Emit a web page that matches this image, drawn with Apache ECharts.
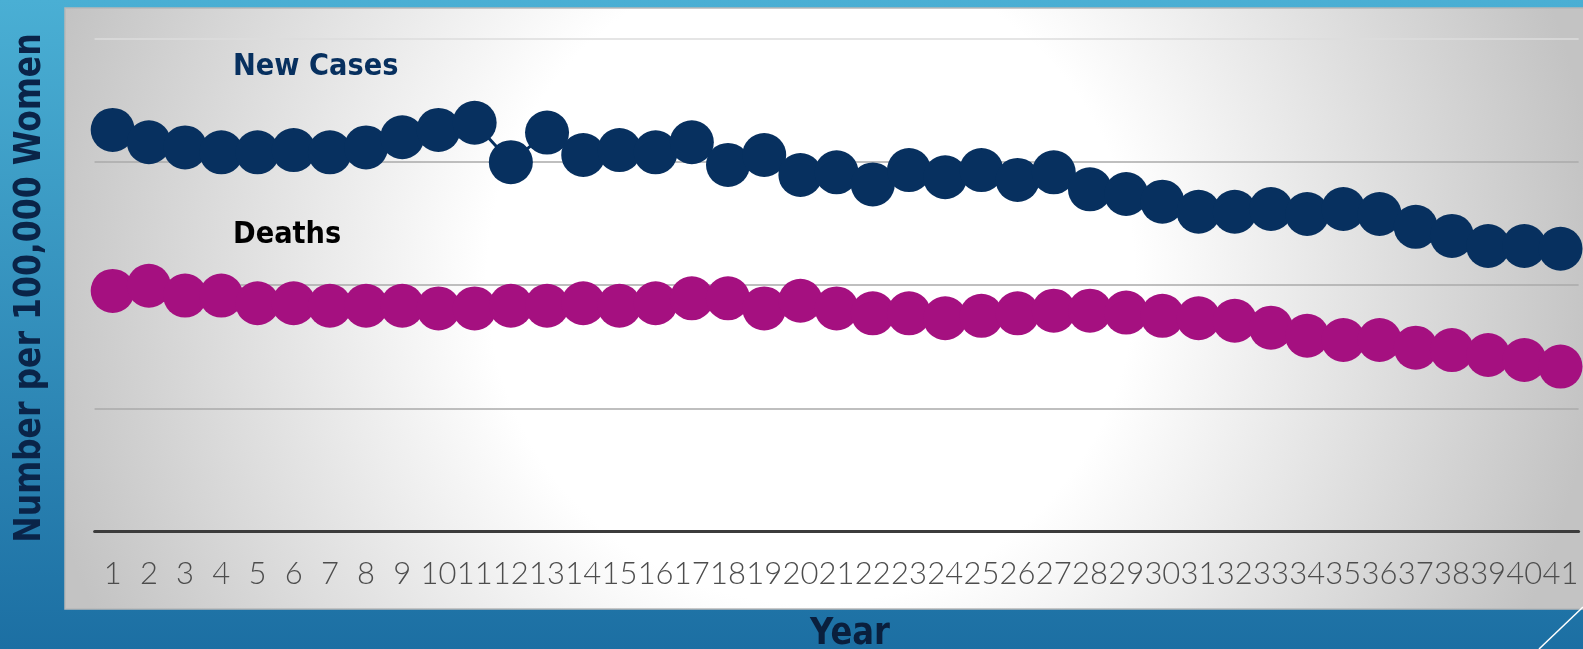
<!DOCTYPE html>
<html>
<head>
<meta charset="utf-8">
<title>New Cases and Deaths</title>
<script src="https://cdn.jsdelivr.net/npm/echarts@6/dist/echarts.min.js"></script>
<style>
  html, body { margin: 0; padding: 0; }
  #myChart { width: 1583px; height: 649px; }
</style>
</head>
<body>
<div id="myChart"></div>
<script>
// categories along the x axis
const years = ['1','2','3','4','5','6','7','8','9','10','11','12','13','14','15','16','17','18','19','20',
  '21','22','23','24','25','26','27','28','29','30','31','32','33','34','35','36','37','38','39','40','41'];

// values (number per 100,000 women)
const newCases = [162.9, 157.9, 155.8, 153.8, 153.8, 154.7, 153.8, 155.8, 159.9, 162.9,
  165.8, 149.8, 161.8, 152.7, 154.7, 153.8, 157.9, 148.7, 152.7, 144.6,
  145.7, 140.8, 146.6, 143.7, 146.6, 142.6, 145.7, 138.8, 136.9, 133.8,
  129.7, 129.7, 130.8, 128.8, 130.8, 128.8, 123.6, 119.9, 115.8, 115.8, 114.7];
const deaths = [97.6, 99.7, 95.7, 95.7, 92.6, 92.6, 91.6, 91.6, 91.6, 90.5,
  90.5, 91.6, 91.6, 92.6, 91.6, 92.6, 94.6, 94.6, 90.5, 93.6,
  90.5, 88.5, 88.5, 86.5, 87.5, 88.5, 89.6, 89.6, 88.8, 87.5,
  86.5, 85.5, 82.7, 79.4, 77.7, 77.7, 74.6, 73.6, 71.6, 69.6, 66.9];

const yMin = 0, yMax = 200, yStep = 50;

const navy = '#07305f';
const magenta = '#a51080';

let myChart = echarts.init(document.getElementById('myChart'));

let option = {
    animation: false,
    backgroundColor: {
        type: 'linear', x: 0, y: 0, x2: 0, y2: 1,
        colorStops: [{offset: 0, color: '#4aafd4'}, {offset: 1, color: '#1c6fa3'}]
    },
    graphic: [
        // slide panel behind the plot
        {
            type: 'rect', z: -10,
            shape: {x: 65, y: 8, width: 1530, height: 601},
            style: {
                fill: {
                    type: 'radial', x: 811, y: 280, r: 790, global: true,
                    colorStops: [
                        {offset: 0, color: '#ffffff'},
                        {offset: 0.41, color: '#ffffff'},
                        {offset: 1, color: '#c3c3c3'}
                    ]
                },
                stroke: '#b8b8b8', lineWidth: 1.5
            }
        },
        {
            type: 'line', z: -5,
            shape: {x1: 1583, y1: 607, x2: 1539, y2: 649},
            style: {stroke: '#ffffff', lineWidth: 1.5}
        },
        {
            type: 'text', z: 10, x: 233, y: 67, scaleX: 0.88,
            style: {text: 'New Cases', font: 'bold 31px "DejaVu Sans"', fill: navy, verticalAlign: 'middle'}
        },
        {
            type: 'text', z: 10, x: 233, y: 235, scaleX: 0.88,
            style: {text: 'Deaths', font: 'bold 31px "DejaVu Sans"', fill: '#000000', verticalAlign: 'middle'}
        },
        {
            type: 'text', z: 10, x: 30, y: 288, rotation: Math.PI / 2, scaleX: 0.83,
            style: {text: 'Number per 100,000 Women', font: 'bold 38px "DejaVu Sans"', fill: '#0a2448',
                align: 'center', verticalAlign: 'middle'}
        },
        {
            type: 'text', z: 10, x: 850, y: 634, scaleX: 0.85,
            style: {text: 'Year', font: 'bold 38px "DejaVu Sans"', fill: '#0a1f3d',
                align: 'center', verticalAlign: 'middle'}
        }
    ],
    grid: {left: 94.6, right: 4.4, top: 38.4, bottom: 117.4},
    xAxis: {
        type: 'category',
        data: years,
        boundaryGap: true,
        axisLine: {lineStyle: {color: '#3c3c3c', width: 3}},
        axisTick: {show: false},
        axisLabel: {interval: 0, margin: 27, color: '#4d4d4d', fontSize: 31,
            fontFamily: 'Lato', fontWeight: 300}
    },
    yAxis: {
        type: 'value',
        min: yMin, max: yMax, interval: yStep,
        axisLine: {show: false},
        axisTick: {show: false},
        axisLabel: {show: false},
        splitLine: {lineStyle: {color: ['#aaaaaa', '#aaaaaa', '#aaaaaa', '#aaaaaa', '#dddddd'], width: 1.5}}
    },
    series: [
        {
            name: 'New Cases',
            type: 'line',
            data: newCases,
            symbol: 'circle',
            symbolSize: 44,
            lineStyle: {color: navy, width: 3},
            itemStyle: {color: navy}
        },
        {
            name: 'Deaths',
            type: 'line',
            data: deaths,
            symbol: 'circle',
            symbolSize: 44,
            lineStyle: {color: magenta, width: 3},
            itemStyle: {color: magenta}
        }
    ]
};
myChart.setOption(option);
</script>
</body>
</html>
